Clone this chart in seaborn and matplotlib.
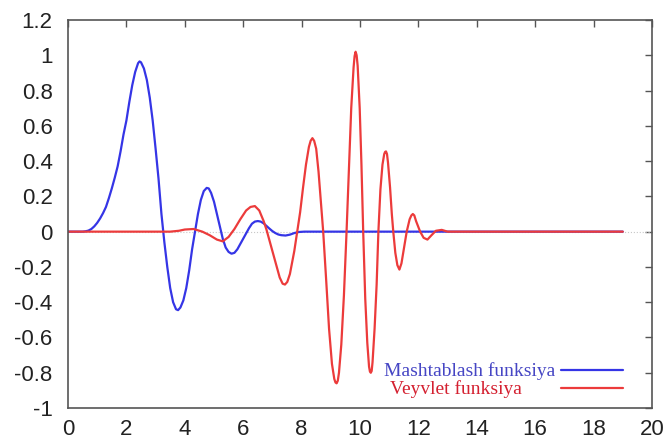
import numpy as np
import pandas as pd
import matplotlib
matplotlib.use("Agg")
import matplotlib.pyplot as plt
import seaborn as sns

# scaling function (blue)
phi_x = [0.0, 0.5, 0.6, 0.7, 0.8, 0.9, 1.0, 1.1, 1.2, 1.3, 1.4, 1.5, 1.6, 1.7,
         1.8, 1.9, 2.0, 2.1, 2.2, 2.3, 2.4, 2.45, 2.5, 2.6, 2.7, 2.8, 2.9, 3.0,
         3.1, 3.2, 3.3, 3.4, 3.5, 3.6, 3.7, 3.77, 3.85, 3.95, 4.05, 4.15, 4.25,
         4.35, 4.45, 4.55, 4.65, 4.75, 4.82, 4.9, 5.0, 5.1, 5.2, 5.3, 5.4, 5.5,
         5.6, 5.7, 5.8, 5.9, 6.0, 6.1, 6.2, 6.3, 6.4, 6.5, 6.6, 6.7, 6.8, 6.9,
         7.0, 7.1, 7.2, 7.3, 7.45, 7.6, 7.75, 7.9, 8.1, 19.0]
phi_y = [0.0, 0.0, 0.002, 0.006, 0.015, 0.03, 0.05, 0.075, 0.105, 0.14, 0.19,
         0.245, 0.305, 0.37, 0.455, 0.55, 0.63, 0.735, 0.83, 0.905, 0.955,
         0.965, 0.96, 0.925, 0.86, 0.76, 0.63, 0.47, 0.3, 0.1, -0.06, -0.2,
         -0.32, -0.4, -0.44, -0.445, -0.43, -0.39, -0.32, -0.22, -0.1, 0.0, 0.1,
         0.18, 0.23, 0.248, 0.245, 0.22, 0.17, 0.1, 0.03, -0.04, -0.09, -0.115,
         -0.125, -0.12, -0.1, -0.07, -0.04, -0.01, 0.02, 0.045, 0.057, 0.06,
         0.057, 0.047, 0.032, 0.017, 0.003, -0.008, -0.016, -0.02, -0.022,
         -0.017, -0.008, -0.002, 0.0, 0.0]

# wavelet function (red)
psi_x = [0, 3.5, 3.8, 4.0, 4.3, 4.6, 4.85, 5.1, 5.3, 5.5, 5.7, 5.9, 6.1, 6.25,
         6.4, 6.55, 6.7, 6.8, 6.95, 7.1, 7.25, 7.35, 7.43, 7.51, 7.6, 7.75,
         7.85, 7.95, 8.05, 8.15, 8.25, 8.31, 8.37, 8.43, 8.5, 8.58, 8.66, 8.74,
         8.84, 8.94, 9.04, 9.12, 9.16, 9.2, 9.24, 9.28, 9.36, 9.45, 9.54, 9.62,
         9.7, 9.78, 9.815, 9.85, 9.885, 9.92, 9.99, 10.05, 10.11, 10.18, 10.25,
         10.31, 10.34, 10.37, 10.4, 10.43, 10.5, 10.57, 10.63, 10.7, 10.77,
         10.83, 10.86, 10.89, 10.925, 10.96, 11.03, 11.09, 11.14, 11.21, 11.28,
         11.35, 11.42, 11.5, 11.6, 11.7, 11.76, 11.81, 11.86, 11.92, 12.06,
         12.18, 12.31, 12.45, 12.6, 12.8, 13.0, 19.0]
psi_y = [0, 0, 0.005, 0.012, 0.015, 0.0, -0.02, -0.045, -0.055, -0.03, 0.015,
         0.07, 0.12, 0.14, 0.145, 0.12, 0.06, 0.01, -0.08, -0.17, -0.26,
         -0.295, -0.30, -0.285, -0.24, -0.11, 0.0, 0.11, 0.25, 0.38, 0.48,
         0.515, 0.53, 0.515, 0.47, 0.34, 0.17, 0.0, -0.27, -0.55, -0.75, -0.835,
         -0.855, -0.86, -0.845, -0.8, -0.64, -0.36, 0.0, 0.35, 0.7, 0.93, 0.995,
         1.02, 1.0, 0.94, 0.7, 0.38, 0.0, -0.38, -0.63, -0.765, -0.793, -0.80,
         -0.79, -0.74, -0.55, -0.3, 0.0, 0.24, 0.38, 0.44, 0.452, 0.455, 0.44,
         0.39, 0.25, 0.1, 0.0, -0.12, -0.19, -0.215, -0.18, -0.1, 0.0, 0.07,
         0.092, 0.10, 0.092, 0.06, 0.0, -0.035, -0.045, -0.02, 0.005, 0.01, 0.0,
         0.0]

labels = ["Mashtablash funksiya", "Veyvlet funksiya" + "\u00a0" * 7]
line_colors = ["#3535e6", "#ec3b3b"]
text_colors = ["#4646c4", "#d42030"]

x_ticks = list(range(0, 21, 2))
y_ticks = [-1, -0.8, -0.6, -0.4, -0.2, 0, 0.2, 0.4, 0.6, 0.8, 1, 1.2]
y_tick_labels = ["-1", "-0.8", "-0.6", "-0.4", "-0.2", "0", "0.2", "0.4",
                 "0.6", "0.8", "1", "1.2"]

sns.set_style("white")
plt.rcParams["font.family"] = ["Liberation Sans", "DejaVu Sans"]

fig = plt.figure(figsize=(6.7, 4.44), dpi=100)
ax = fig.add_axes([0.1015, 0.081, 0.8716, 0.874])

# faint zero axis
ax.axhline(0, color="#c8c8c8", lw=0.8, ls=":", zorder=1)

sns.lineplot(x=phi_x, y=phi_y, ax=ax, color=line_colors[0], lw=1.6,
             label=labels[0], sort=False, estimator=None)
sns.lineplot(x=psi_x, y=psi_y, ax=ax, color=line_colors[1], lw=1.6,
             label=labels[1], sort=False, estimator=None)

ax.set_xlim(0, 20)
ax.set_ylim(-1, 1.2)
ax.set_xticks(x_ticks)
ax.set_yticks(y_ticks)
ax.set_xticklabels([str(t) for t in x_ticks])
ax.set_yticklabels(y_tick_labels)
ax.tick_params(direction="in", length=5, width=1, color="#555555",
               top=True, right=True, labelsize=16, labelcolor="#222222")
ax.tick_params(axis="x", pad=8)
ax.tick_params(axis="y", pad=11)
for s in ax.spines.values():
    s.set_color("#555555")
    s.set_linewidth(1.2)
ax.set_xlabel("")
ax.set_ylabel("")

leg = ax.legend(loc="lower right", bbox_to_anchor=(0.950, 0.025),
                frameon=False, markerfirst=False, handlelength=3.2,
                handletextpad=0.25, labelspacing=0.0, borderpad=0,
                borderaxespad=0,
                prop={"family": "Liberation Serif", "size": 14})
for txt, c in zip(leg.get_texts(), text_colors):
    txt.set_color(c)

fig.savefig("out.png", dpi=100)
